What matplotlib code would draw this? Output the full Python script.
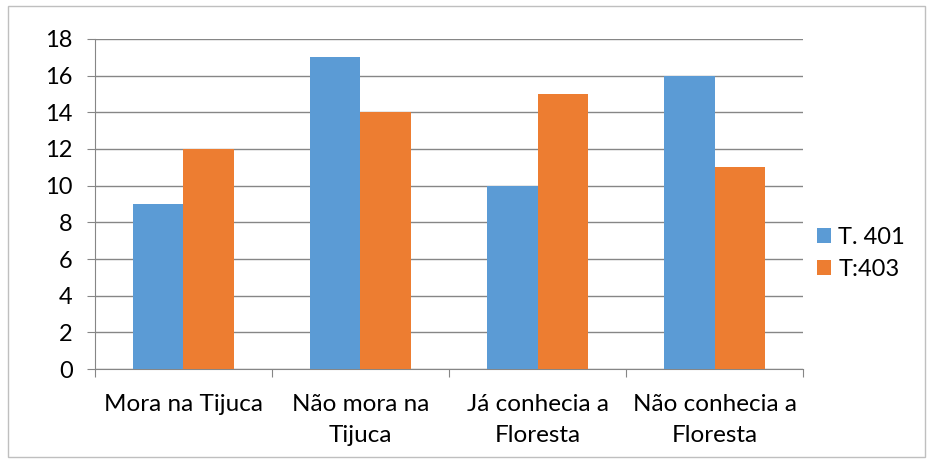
import numpy as np
import matplotlib.pyplot as plt
from matplotlib.patches import Rectangle

plt.rcParams['font.family'] = ['Lato', 'DejaVu Sans']

categorias = ["Mora na Tijuca", "Não mora na\nTijuca", "Já conhecia a\nFloresta", "Não conhecia a\nFloresta"]
t401 = [9, 17, 10, 16]
t403 = [12, 14, 15, 11]
series = ["T. 401", "T:403"]

fig = plt.figure(figsize=(9.33, 4.63), dpi=100)
ax = fig.add_axes([0.1018, 0.203, 0.7589, 0.7128])

x = np.arange(len(categorias))
w = 1 / 3.5
ax.bar(x - w / 2, t401, w, color='#5B9BD5', label=series[0], zorder=3)
ax.bar(x + w / 2, t403, w, color='#ED7D31', label=series[1], zorder=3)

ax.set_xlim(-0.5, len(categorias) - 0.5)
ax.set_ylim(0, 18)
ax.set_yticks(np.arange(0, 19, 2))
ax.yaxis.grid(True, color='#868686', lw=1, zorder=0)
ax.set_xticks(np.arange(-0.5, len(categorias), 1))
ax.set_xticklabels([])
ax.set_xticks(x, minor=True)
ax.set_xticklabels(categorias, minor=True, fontsize=17.5, linespacing=1.6)
ax.tick_params(axis='x', which='minor', length=0, pad=18)
ax.tick_params(axis='x', which='major', length=6, color='#868686')
ax.tick_params(axis='y', length=6, color='#868686', labelsize=17, pad=10)
for s in ['top', 'right']:
    ax.spines[s].set_visible(False)
for s in ['left', 'bottom']:
    ax.spines[s].set_color('#868686')

ax.legend(loc='center left', bbox_to_anchor=(1.0, 0.35), frameon=False,
          fontsize=17, handlelength=0.6, handleheight=0.6, handletextpad=0.3,
          labelspacing=0.45, borderaxespad=0.2)

fig.patches.append(Rectangle((0.009, 0.012), 0.982, 0.976, transform=fig.transFigure,
                             fill=False, edgecolor='#BFBFBF', lw=1))

fig.savefig('out.png', dpi=100)
